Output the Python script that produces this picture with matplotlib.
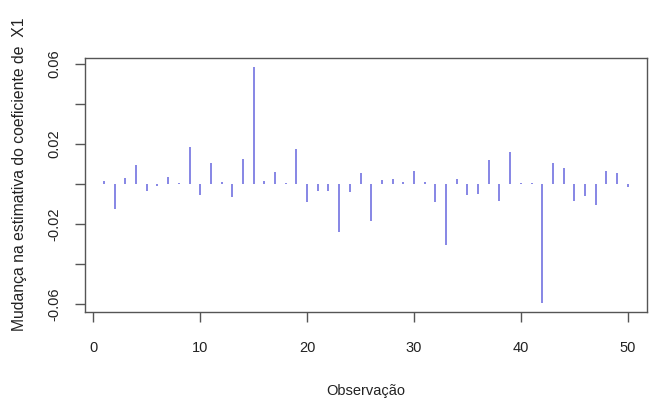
import matplotlib
matplotlib.use("Agg")
import matplotlib.pyplot as plt
import numpy as np

obs = list(range(1, 51))
delta = [0.0015, -0.0126, 0.0028, 0.0094, -0.0038, -0.0012, 0.0033, 0.0003, 0.0186, -0.0058,
         0.0103, 0.0010, -0.0068, 0.0126, 0.0583, 0.0017, 0.0061, 0.0005, 0.0174, -0.0093,
         -0.0038, -0.0038, -0.0242, -0.0043, 0.0056, -0.0184, 0.0020, 0.0023, 0.0008, 0.0066,
         0.0008, -0.0091, -0.0308, 0.0023, -0.0058, -0.0051, 0.0118, -0.0085, 0.0161, 0.0005,
         0.0004, -0.0594, 0.0103, 0.0080, -0.0088, -0.0060, -0.0108, 0.0066, 0.0056, -0.0017]
xticks = [0, 10, 20, 30, 40, 50]
yticks = [-0.06, -0.04, -0.02, 0.0, 0.02, 0.04, 0.06]
ylabels = ["-0.06", "", "-0.02", "", "0.02", "", "0.06"]

plt.rcParams['font.family'] = ['Liberation Sans', 'DejaVu Sans']
fig = plt.figure(figsize=(6.5, 4.04), dpi=100)
W, H = 650, 404
left, right, top, bottom = 85, 647, 58, 312
ax = fig.add_axes([left / W, 1 - bottom / H, (right - left) / W, (bottom - top) / H])

ax.vlines(obs, 0, delta, color='#7272e0', linewidth=1.2)

ax.set_xlim(-0.78, 51.8)
ax.set_ylim(-0.0641, 0.0630)
ax.set_xticks(xticks)
ax.set_xticklabels([str(t) for t in xticks])
ax.set_yticks(yticks)
ax.set_yticklabels(ylabels, rotation=90, va='center')

edge = '#555555'
for s in ax.spines.values():
    s.set_color(edge)
    s.set_linewidth(1.0)
ax.tick_params(axis='both', colors=edge, labelcolor='#222222', labelsize=10.5,
               length=7, width=1.0, direction='out')
ax.tick_params(axis='x', pad=14)
ax.tick_params(axis='y', pad=10)

ax.set_xlabel('Observação', fontsize=10.5, color='#222222')
ax.xaxis.set_label_coords(0.5, -0.285)
fig.text(20 / W, 1 - 174 / H, 'Mudança na estimativa do coeficiente de  X1',
         rotation=90, ha='center', va='center', fontsize=11.3, color='#222222')

fig.savefig('out.png', dpi=100)
